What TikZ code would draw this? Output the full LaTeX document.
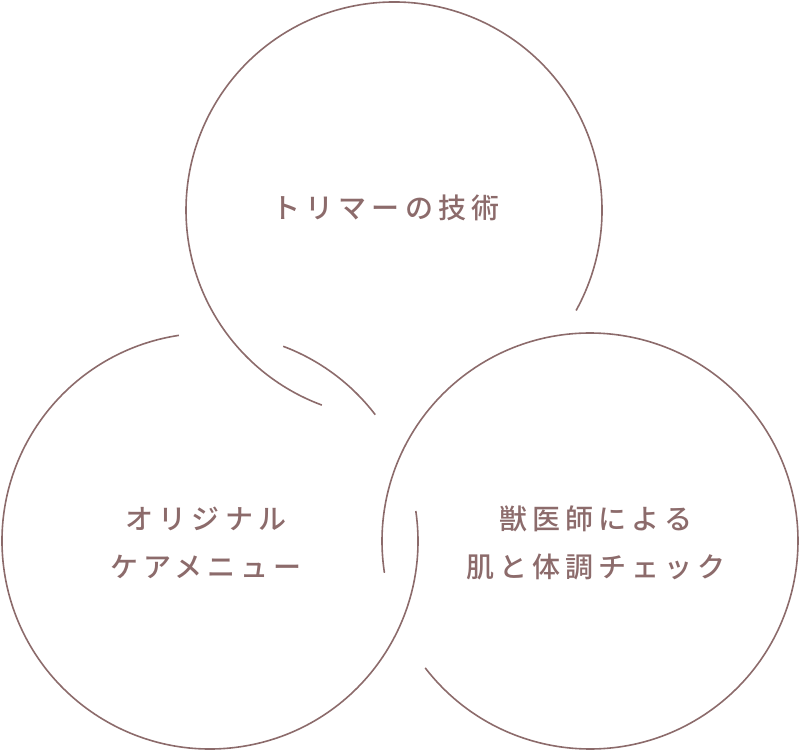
\documentclass[tikz,border=0pt]{standalone}
\usepackage{fontspec}
\newfontfamily\jpfont{Noto Sans CJK JP}[UprightFont={* Medium}, LetterSpace=18]
\definecolor{ringbrown}{HTML}{8C6B6B}
\tikzset{
  ring/.style={color=ringbrown, line width=0.8pt},
  ringtext/.style={text=ringbrown, align=center, inner sep=0pt,
    font=\jpfont\fontsize{14pt}{24pt}\selectfont}
}
\begin{document}
\begin{tikzpicture}[x=0.5pt, y=0.5pt]
\useasboundingbox (0,0) rectangle (800,752);
% ring centres
\coordinate (T) at (394,542);
\coordinate (L) at (210,211);
\coordinate (R) at (590,211);

% top ring, open where the two lower rings pass over it
\draw [ring] (T) ++(-28.9:208) arc [start angle=-28.9, end angle=249.7, radius=208];
% left ring
\draw [ring] (L) ++(98.6:208) arc [start angle=98.6, end angle=368.3, radius=208];
\draw [ring] (L) ++(37.4:208) arc [start angle=37.4, end angle=69.4, radius=208];
% right ring
\draw [ring] (R) ++(217.6:208) arc [start angle=217.6, end angle=548.8, radius=208];

\node [ringtext] (toplabel) at (386,544) {トリマーの技術};
\node [ringtext] (leftlabel) at (206,209) {オリジナル\\ケアメニュー};
\node [ringtext] (rightlabel) at (596,209) {獣医師による\\肌と体調チェック};

\end{tikzpicture}
\end{document}
